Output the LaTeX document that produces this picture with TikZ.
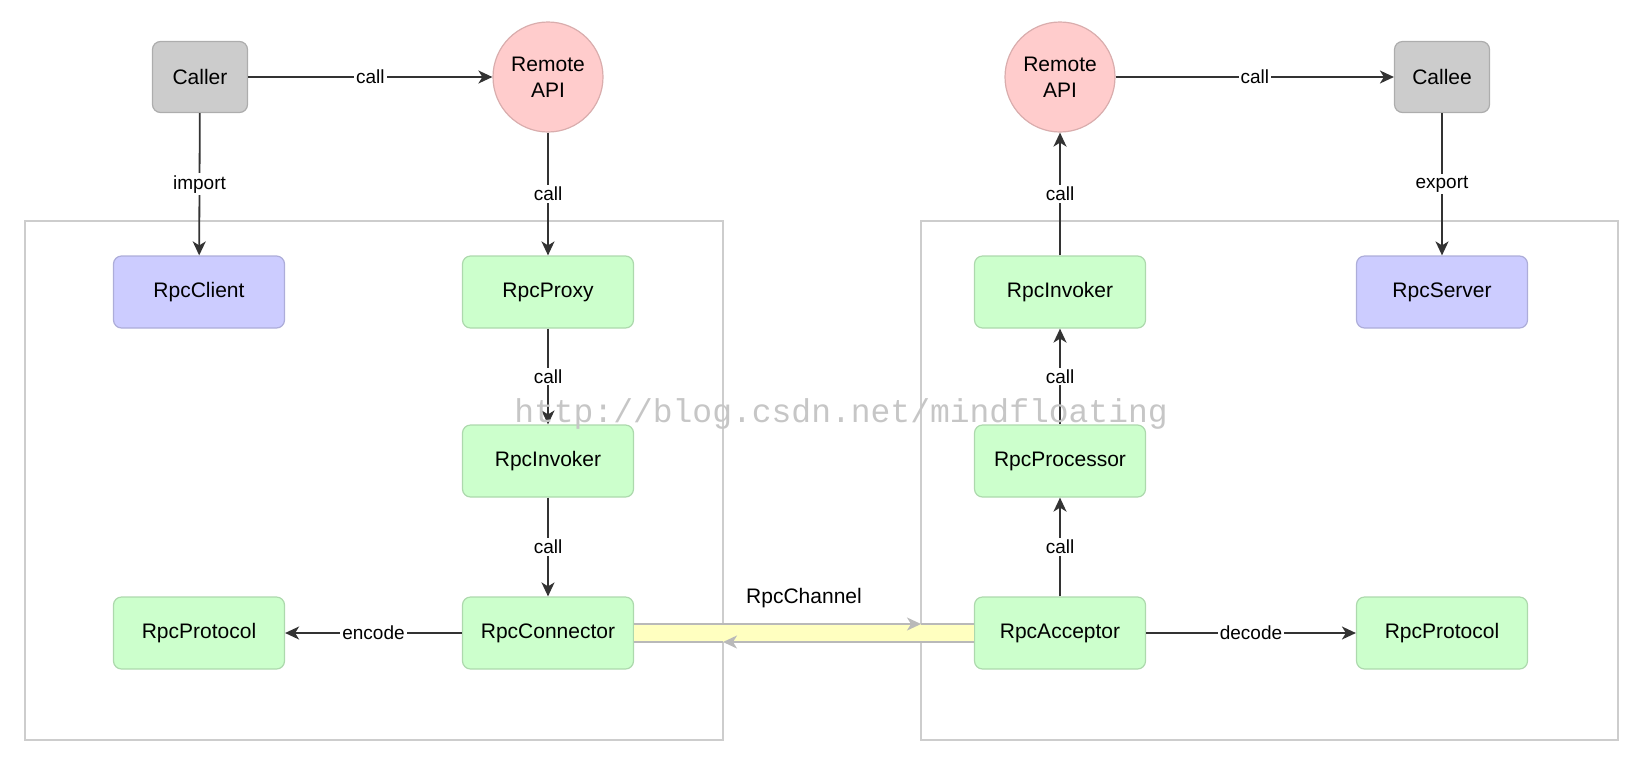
\documentclass[tikz,border=0pt]{standalone}
\usepackage{fontspec}
\setmainfont{Liberation Sans}
\newfontfamily\wmfont{Liberation Mono}
\usetikzlibrary{arrows.meta}

\definecolor{grayfill}{HTML}{CCCCCC}
\definecolor{pinkfill}{HTML}{FFCCCC}
\definecolor{bluefill}{HTML}{CCCCFF}
\definecolor{greenfill}{HTML}{CCFFCC}
\definecolor{chanfill}{HTML}{FFFFC0}
\definecolor{framegray}{HTML}{CDCDCD}

\tikzset{
  >={Stealth[length=7pt,width=6.5pt,inset=2pt]},
  box/.style={rectangle,rounded corners=4pt,minimum width=85.5pt,minimum height=36pt,
    font=\fontsize{10.5}{13}\selectfont,line width=0.6pt},
  graybox/.style={box,fill=grayfill,draw=grayfill!85!black,minimum width=47.5pt,minimum height=35.5pt},
  bluebox/.style={box,fill=bluefill,draw=bluefill!85!black},
  greenbox/.style={box,fill=greenfill,draw=greenfill!85!black},
  apinode/.style={circle,fill=pinkfill,draw=pinkfill!85!black,minimum size=55pt,inner sep=0pt,
    align=center,font=\fontsize{10.5}{13}\selectfont,line width=0.6pt},
  lbl/.style={fill=white,inner sep=1pt,font=\fontsize{9.5}{11}\selectfont},
  link/.style={draw=black!80,line width=0.9pt},
  frame/.style={draw=framegray,line width=0.8pt},
  chanline/.style={draw=gray!55,line width=0.8pt}
}

\begin{document}
\begin{tikzpicture}[x=0.5pt,y=-0.5pt]
    \useasboundingbox (0,0) rectangle (1652,756);
    % frames
    \draw[frame] (25,221) rectangle (723,740);
    \draw[frame] (921,221) rectangle (1618,740);
    % client side
    \node[graybox] (caller) at (200,77) {Caller};
    \node[apinode] (apiL) at (548,77) {Remote\\API};
    \node[bluebox] (client) at (199,292) {RpcClient};
    \node[greenbox] (proxy) at (548,292) {RpcProxy};
    \node[greenbox] (invokerL) at (548,461) {RpcInvoker};
    \node[greenbox] (connector) at (548,633) {RpcConnector};
    \node[greenbox] (protoL) at (199,633) {RpcProtocol};
    % server side
    \node[apinode] (apiR) at (1060,77) {Remote\\API};
    \node[graybox] (callee) at (1442,77) {Callee};
    \node[greenbox] (invokerR) at (1060,292) {RpcInvoker};
    \node[bluebox] (server) at (1442,292) {RpcServer};
    \node[greenbox] (processor) at (1060,461) {RpcProcessor};
    \node[greenbox] (acceptor) at (1060,633) {RpcAcceptor};
    \node[greenbox] (protoR) at (1442,633) {RpcProtocol};
    % channel
    \coordinate (chTop) at (921,624);
    \coordinate (chBot) at (723,642);
    \fill[chanfill] ([yshift=4.5pt]connector.east) rectangle ([yshift=-4.5pt]acceptor.west);
    \draw[chanline] [->] ([yshift=4.5pt]connector.east) -- (chTop);
    \draw[chanline] (chTop) -- ([yshift=4.5pt]acceptor.west);
    \draw[chanline] [->] ([yshift=-4.5pt]acceptor.west) -- (chBot);
    \draw[chanline] (chBot) -- ([yshift=-4.5pt]connector.east);
    \node[font=\fontsize{10.5}{13}\selectfont] (chan) at (804,598) {RpcChannel};
    % connectors
    \draw[link] [->] (caller) -- node[lbl]{call} (apiL);
    \draw[link] [->] (caller) -- node[lbl]{import} (client);
    \draw[link] [->] (apiL) -- node[lbl]{call} (proxy);
    \draw[link] [->] (proxy) -- node[lbl]{call} (invokerL);
    \draw[link] [->] (invokerL) -- node[lbl]{call} (connector);
    \draw[link] [->] (connector) -- node[lbl]{encode} (protoL);
    \draw[link] [->] (apiR) -- node[lbl]{call} (callee);
    \draw[link] [->] (callee) -- node[lbl]{export} (server);
    \draw[link] [->] (invokerR) -- node[lbl]{call} (apiR);
    \draw[link] [->] (processor) -- node[lbl]{call} (invokerR);
    \draw[link] [->] (acceptor) -- node[lbl]{call} (processor);
    \draw[link] [->] (acceptor) -- node[lbl]{decode} (protoR);
    % watermark
    \node[text=gray!45,font=\wmfont\fontsize{16.5}{18}\selectfont] (mark) at (841,414) {http://blog.csdn.net/mindfloating};
\end{tikzpicture}
\end{document}
